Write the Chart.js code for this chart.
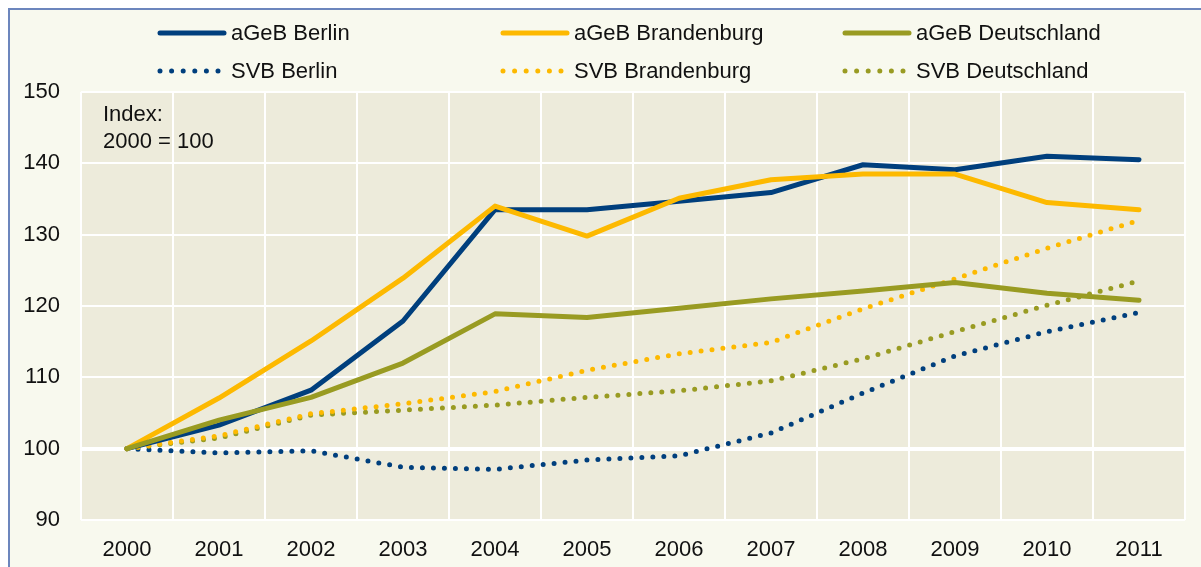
<!DOCTYPE html>
<html>
<head>
<meta charset="UTF-8">
<title>aGeB und SVB</title>
<script src="https://cdn.jsdelivr.net/npm/chart.js@4/dist/chart.umd.min.js"></script>
<style>
  html, body { margin: 0; padding: 0; background: #ffffff; }
  #wrap { position: relative; width: 1201px; height: 567px; overflow: hidden; }
  #frame { position: absolute; left: 8px; top: 8px; width: 1260px; height: 620px;
           border: 2px solid #6c86bd; background: #f8f9ee; }
  #c { position: absolute; left: 0; top: 0; }
</style>
</head>
<body>
<div id="wrap">
  <div id="frame"></div>
  <canvas id="c" width="1201" height="567"></canvas>
</div>
<script>
// Index 2000 = 100
var years = ['2000', '2001', '2002', '2003', '2004', '2005', '2006', '2007', '2008', '2009', '2010', '2011'];

var agebBerlin      = [100, 103.3, 108.2, 117.9, 133.5, 133.5, 134.7, 135.9, 139.8, 139.1, 141.0, 140.5];
var agebBrandenburg = [100, 107.1, 115.1, 123.9, 134.0, 129.8, 135.1, 137.7, 138.5, 138.5, 134.5, 133.5];
var agebDeutschland = [100, 104.0, 107.2, 112.0, 118.9, 118.4, 119.7, 121.0, 122.1, 123.3, 121.8, 120.8];
var svbBerlin       = [100, 99.4, 99.7, 97.4, 97.1, 98.4, 99.0, 102.2, 107.8, 113.0, 116.4, 119.1];
var svbBrandenburg  = [100, 101.8, 104.9, 106.3, 108.0, 111.0, 113.3, 114.9, 119.6, 123.8, 128.1, 132.0];
var svbDeutschland  = [100, 101.5, 104.7, 105.4, 106.1, 107.2, 108.1, 109.5, 112.6, 116.4, 120.1, 123.5];

var yTicks = [90, 100, 110, 120, 130, 140, 150];

var NAVY = '#003f7d';
var GOLD = '#fdb900';
var OLIVE = '#999b22';
var DOTS = [0, 11];

Chart.defaults.font.family = '"Liberation Sans", Arial, sans-serif';
Chart.defaults.color = '#111111';

function line(label, data, color, dotted, order) {
    return {
        label: label,
        data: data,
        borderColor: color,
        backgroundColor: color,
        borderWidth: 5,
        borderDash: dotted ? DOTS : [],
        borderCapStyle: 'round',
        borderJoinStyle: 'round',
        pointRadius: 0,
        pointHoverRadius: 0,
        tension: 0,
        fill: false,
        order: order
    };
}

// plot area background
var plotBg = {
    id: 'plotBg',
    beforeDraw: function(chart) {
        var a = chart.chartArea, ctx = chart.ctx;
        ctx.save();
        ctx.fillStyle = '#edebdb';
        ctx.fillRect(a.left, a.top, a.right - a.left, a.bottom - a.top);
        ctx.restore();
    }
};

// legend in 3 columns x 2 rows, plus the index note
var legendGrid = {
    id: 'legendGrid',
    afterDraw: function(chart) {
        var ctx = chart.ctx;
        var colX = [160, 503, 845];
        var rowY = [33, 71];
        ctx.save();
        chart.data.datasets.forEach(function(ds, i) {
            var x = colX[i % 3], y = rowY[Math.floor(i / 3)];
            ctx.strokeStyle = ds.borderColor;
            ctx.lineWidth = 5;
            ctx.lineCap = 'round';
            ctx.setLineDash(ds.borderDash.length ? [0, 11.6] : []);
            ctx.beginPath();
            ctx.moveTo(x, y);
            ctx.lineTo(x + 64, y);
            ctx.stroke();
            ctx.setLineDash([]);
            ctx.fillStyle = '#111111';
            ctx.font = '22px "Liberation Sans", Arial, sans-serif';
            ctx.textBaseline = 'middle';
            ctx.fillText(ds.label, x + 71, y + 1);
        });
        ctx.font = '22px "Liberation Sans", Arial, sans-serif';
        ctx.textBaseline = 'middle';
        ctx.fillText('Index:', 103, 115);
        ctx.fillText('2000 = 100', 103, 142);
        ctx.restore();
    }
};

new Chart(document.getElementById('c'), {
    type: 'line',
    data: {
        labels: years,
        datasets: [
            line('aGeB Berlin', agebBerlin, NAVY, false, 3),
            line('aGeB Brandenburg', agebBrandenburg, GOLD, false, 2),
            line('aGeB Deutschland', agebDeutschland, OLIVE, false, 1),
            line('SVB Berlin', svbBerlin, NAVY, true, 6),
            line('SVB Brandenburg', svbBrandenburg, GOLD, true, 4),
            line('SVB Deutschland', svbDeutschland, OLIVE, true, 5)
        ]
    },
    options: {
        responsive: false,
        animation: false,
        layout: { padding: { top: 92, right: 16, left: 0, bottom: 0 } },
        plugins: {
            legend: { display: false },
            tooltip: { enabled: false }
        },
        scales: {
            x: {
                offset: true,
                grid: { offset: true, color: '#ffffff', lineWidth: 2, drawTicks: false },
                border: { display: false },
                ticks: { font: { size: 22 }, padding: 17, maxRotation: 0 },
                afterFit: function(s) { s.height = 47; }
            },
            y: {
                min: 90,
                max: 150,
                afterBuildTicks: function(s) { s.ticks = yTicks.map(function(v) { return { value: v }; }); },
                grid: {
                    color: '#ffffff',
                    drawTicks: false,
                    lineWidth: function(c) { return c.tick && c.tick.value === 100 ? 4 : 2; }
                },
                border: { display: false },
                ticks: { font: { size: 22 }, padding: 21 },
                afterFit: function(s) { s.width = 81; }
            }
        }
    },
    plugins: [plotBg, legendGrid]
});
</script>
</body>
</html>
